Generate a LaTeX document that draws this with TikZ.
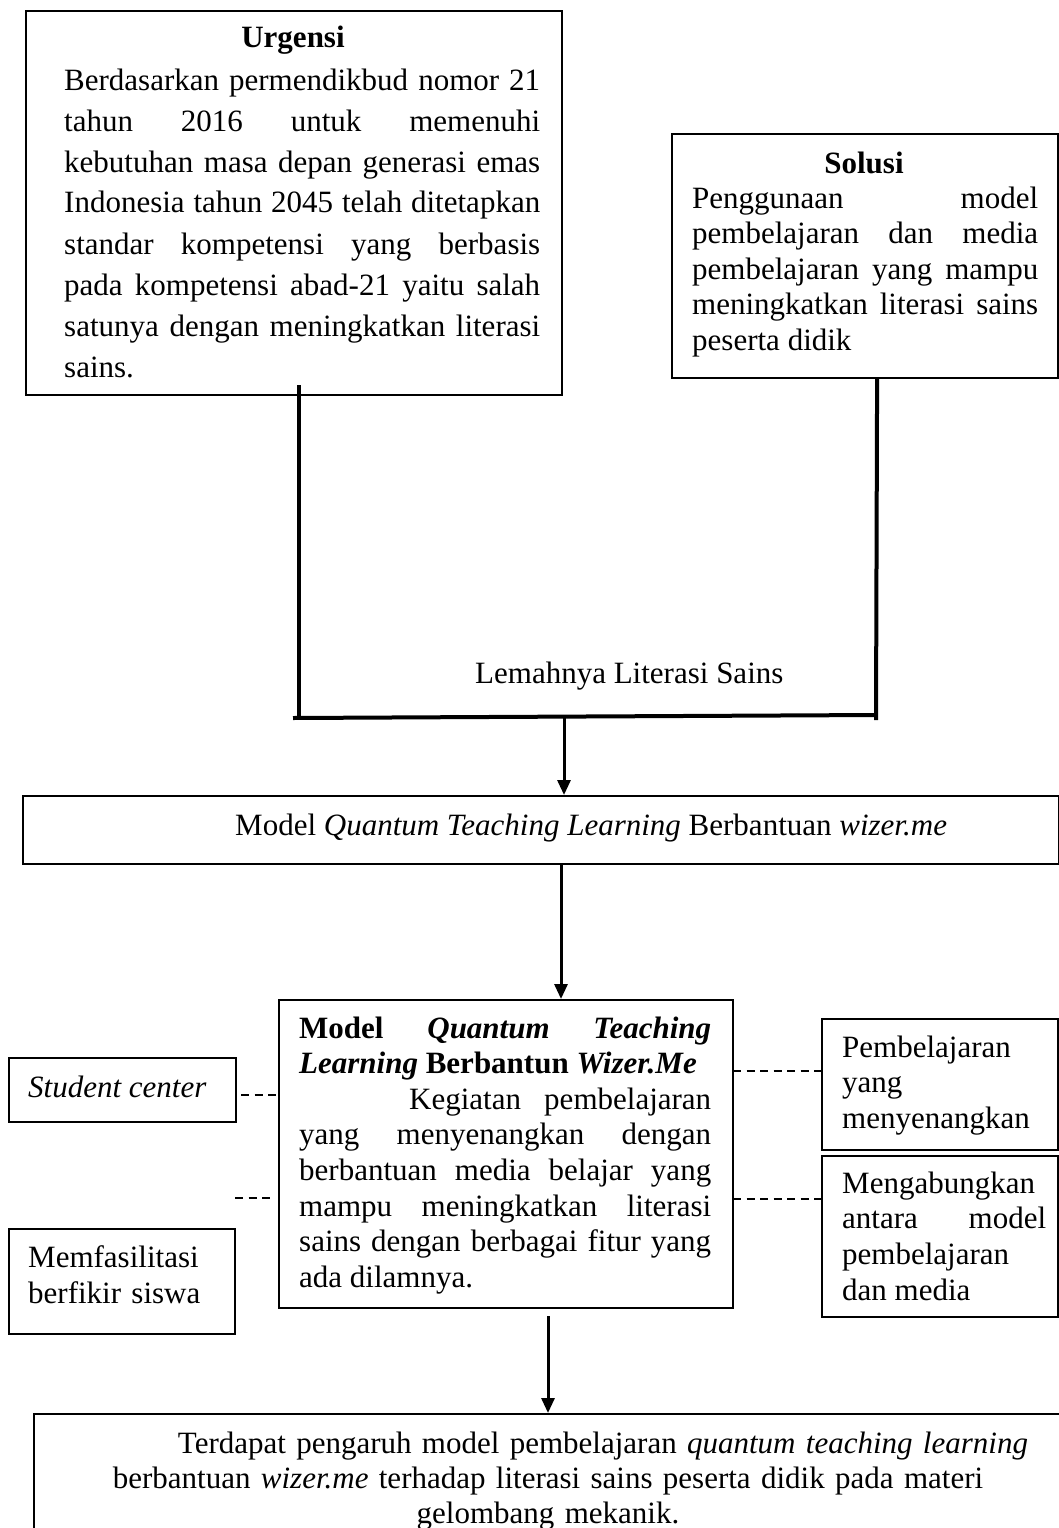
\documentclass[tikz,border=0pt]{standalone}
\usepackage{fontspec}
\setmainfont{Liberation Serif}
\usetikzlibrary{arrows.meta}
\newcommand{\fsz}[1]{\fontsize{31}{#1}\selectfont\tolerance=10000\hyphenpenalty=10000\exhyphenpenalty=10000}
\begin{document}
\begin{tikzpicture}[x=1pt,y=-1pt,
  box/.style={draw, line width=2.2pt, inner sep=0pt, anchor=north west},
  txt/.style={inner sep=0pt, anchor=base west, align=justify, font=\fsz{#1}},
  lbl/.style={inner sep=0pt, anchor=base west, font=\fsz{36}},
  ttl/.style={inner sep=0pt, anchor=base, font=\fsz{36}\bfseries},
  conn/.style={line width=4pt},
  arr/.style={line width=3pt, -{Triangle[length=15pt,width=13pt]}},
  dsh/.style={line width=1.8pt, dash pattern=on 8pt off 5.5pt}]
\useasboundingbox (0,0) rectangle (1059,1528);
\fill[white] (0,0) rectangle (1059,1528);
\clip (0,0) rectangle (1059,1528);

% Urgensi
\node[box, minimum width=536pt, minimum height=384pt] (urg) at (25,10) {};
\node[ttl] (urgT) at (293,48) {Urgensi};
\node[txt=41, text width=476pt] (urgB) at (64,90) {Berdasarkan permendikbud nomor 21\linebreak tahun 2016 untuk memenuhi\linebreak kebutuhan masa depan generasi emas\linebreak Indonesia tahun 2045 telah ditetapkan\linebreak standar kompetensi yang berbasis\linebreak pada kompetensi abad-21 yaitu salah\linebreak satunya dengan meningkatkan literasi\linebreak sains.};

% Solusi
\node[box, minimum width=386pt, minimum height=244pt] (sol) at (671,133) {};
\node[ttl] (solT) at (864,173) {Solusi};
\node[txt=35.5, text width=346pt] (solB) at (692,208) {Penggunaan model\linebreak pembelajaran dan media\linebreak pembelajaran yang mampu\linebreak meningkatkan literasi sains\linebreak peserta didik};

% Lemahnya
\node[lbl] (lem) at (475,683) {Lemahnya Literasi Sains};

% Model box
\node[box, line width=2pt, minimum width=1036pt, minimum height=68pt] (mod) at (22,795) {};
\node[lbl] (modT) at (235,835) {Model \textit{Quantum Teaching Learning} Berbantuan \textit{wizer.me}};

% Central box
\node[box, minimum width=454pt, minimum height=308pt] (cen) at (278,999) {};
\node[txt=35.6, text width=412pt] (cenB) at (299,1038) {\textbf{Model \textit{Quantum Teaching}}\linebreak \textbf{\textit{Learning} Berbantun \textit{Wizer.Me}}\\ \hspace*{110pt}Kegiatan pembelajaran\linebreak yang menyenangkan dengan\linebreak berbantuan media belajar yang\linebreak mampu meningkatkan literasi\linebreak sains dengan berbagai fitur yang\linebreak ada dilamnya.};

% Left boxes
\node[box, minimum width=227pt, minimum height=64pt] (stu) at (8,1057) {};
\node[lbl, font=\fsz{36}\itshape] (stuT) at (28,1097) {Student center};
\node[box, minimum width=226pt, minimum height=105pt] (mem) at (8,1228) {};
\node[txt=36, text width=200pt, align=left] (memT) at (28,1267) {Memfasilitasi\\berfikir siswa};

% Right boxes
\node[box, minimum width=236pt, minimum height=131pt] (pem) at (821,1018) {};
\node[txt=35.5, text width=200pt, align=left] (pemT) at (842,1057) {Pembelajaran\\yang\\menyenangkan};
\node[box, minimum width=236pt, minimum height=161pt] (men) at (821,1155) {};
\node[txt=35.7, text width=204pt] (menT) at (842,1193) {Mengabungkan\\antara model\linebreak pembelajaran\\dan media};

% Bottom box
\node[box, minimum width=1040pt, minimum height=140pt] (bot) at (33,1413) {};
\node[inner sep=0pt, anchor=base, align=center, text width=1000pt, font=\fsz{35}] (botT) at (548,1453) {\hspace*{110pt}Terdapat pengaruh model pembelajaran \textit{quantum teaching learning}\\ berbantuan \textit{wizer.me} terhadap literasi sains peserta didik pada materi\\ gelombang mekanik.};

% Connectors (top junction)
\coordinate (uL) at (298.5,385);
\coordinate (jL) at (298.5,720);
\coordinate (hA) at (293,718);
\coordinate (hB) at (876,715);
\coordinate (jR) at (876,720);
\coordinate (jM) at (564,717);
\draw[conn] (uL) -- (jL);
\draw[conn] ([xshift=12pt]sol.south) -- (jR);
\draw[conn] (hA) -- (hB);
\draw[arr] (jM) -- (jM |- mod.north);

\coordinate (a2) at (561,863);
\draw[arr] (a2) -- (a2 |- cen.north);
\coordinate (a3) at (548,1316);
\draw[arr] (a3) -- (a3 |- bot.north);

% Dashed links
\draw[dsh] ([xshift=4pt,yshift=-5pt]stu.east) -- ([yshift=-5pt]stu.east -| cen.west);
\coordinate (d2) at (235,1198);
\draw[dsh] (d2) -- ([xshift=-7pt]d2 -| cen.west);
\coordinate (d3) at (733,1071);
\draw[dsh] (d3) -- (d3 -| pem.west);
\coordinate (d4) at (733,1199);
\draw[dsh] (d4) -- (d4 -| men.west);
\end{tikzpicture}
\end{document}
